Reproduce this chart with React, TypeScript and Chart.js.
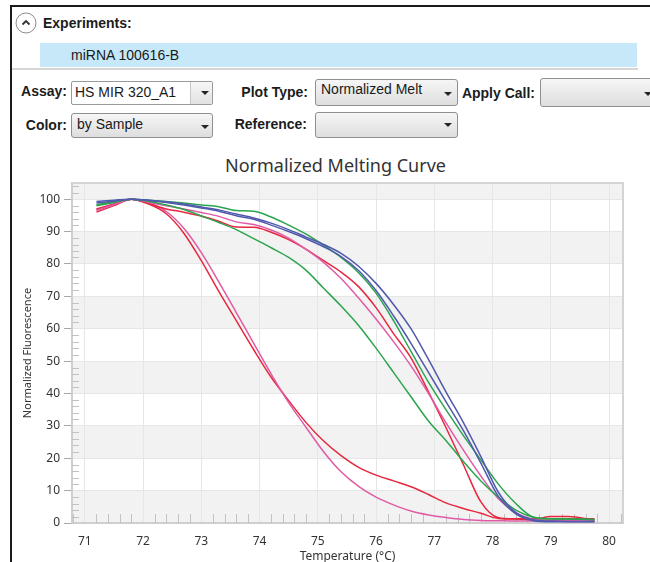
import React, { useEffect, useRef } from "react";
import { Chart, registerables } from "chart.js";

Chart.register(...registerables);

// Melt temperatures (°C) shared by every well trace
const temperatures = [
  71.2, 71.5, 71.8, 72.1, 72.4, 72.7, 73.0, 73.3, 73.6, 73.9, 74.2, 74.5, 74.8, 75.1, 75.4,
  75.7, 76.0, 76.3, 76.6, 76.9, 77.2, 77.5, 77.8, 78.1, 78.4, 78.7, 79.0, 79.3, 79.75,
];

// Normalized fluorescence (%) per sample
const blueA = [
  99.3, 99.7, 100, 99.7, 99.2, 98.5, 97.6, 96.7, 95.4, 94.2, 92.6, 90.6, 88.3, 86.0, 83.3,
  79.3, 74.0, 67.5, 60.0, 50.5, 40.5, 31.0, 20.5, 9.5, 3.2, 1.0, 0.6, 0.5, 0.5,
];
const blueB = [
  98.8, 99.4, 100, 99.6, 99.0, 98.2, 97.3, 96.3, 94.9, 93.8, 92.0, 90.0, 87.8, 85.3, 82.3,
  78.0, 71.8, 64.0, 55.5, 46.5, 37.5, 28.5, 18.5, 8.2, 2.8, 0.7, 0.4, 0.4, 0.4,
];
const greenA = [
  98.3, 99.2, 100, 99.7, 99.3, 98.8, 98.2, 97.7, 96.5, 96.3, 94.5, 92.0, 89.2, 85.8, 82.0,
  77.3, 71.0, 62.5, 53.0, 43.5, 35.0, 27.0, 19.5, 12.0, 6.0, 1.8, 1.3, 1.2, 1.1,
];
const greenB = [
  98.0, 99.0, 100, 99.3, 98.2, 96.8, 94.8, 92.8, 90.6, 87.8, 85.0, 82.0, 78.0, 72.5, 67.0,
  61.0, 54.0, 46.5, 39.0, 31.5, 25.5, 19.0, 13.0, 8.0, 4.0, 1.8, 1.3, 1.2, 1.0,
];
const redA = [
  97.0, 98.5, 100, 98.6, 97.0, 96.0, 94.8, 93.2, 91.4, 91.3, 89.8, 87.5, 84.5, 81.0, 77.5,
  73.0, 66.5, 58.5, 51.0, 40.5, 29.5, 18.0, 6.5, 1.6, 1.2, 1.1, 2.0, 2.0, 0.9,
];
const pinkA = [
  96.5, 98.3, 100, 99.0, 98.0, 97.0, 95.9, 94.7, 93.0, 92.2, 90.5, 88.0, 84.5, 80.5, 75.5,
  69.5, 63.0, 56.0, 48.5, 40.0, 31.0, 22.5, 14.5, 7.5, 3.2, 1.2, 0.8, 0.7, 0.6,
];
const redB = [
  96.0, 98.0, 100, 98.5, 95.5, 89.5, 81.0, 71.5, 62.5, 53.5, 45.0, 37.8, 31.0, 25.3, 20.8,
  17.2, 14.8, 13.0, 11.2, 8.8, 6.2, 4.5, 3.0, 1.4, 1.3, 1.3, 1.3, 1.3, 1.3,
];
const pinkB = [
  96.8, 98.4, 100, 98.8, 96.2, 91.0, 83.5, 74.5, 65.0, 55.5, 46.0, 37.2, 29.5, 22.0, 15.8,
  11.3, 8.0, 5.6, 3.7, 2.5, 1.7, 1.1, 0.8, 0.7, 0.6, 0.6, 0.6, 0.6, 0.8,
];

// Axis ticks
const xTicks = [71, 72, 73, 74, 75, 76, 77, 78, 79, 80];
const yTicks = [0, 10, 20, 30, 40, 50, 60, 70, 80, 90, 100];
// Lower edges of the shaded 10% bands
const shadedBands = [0, 20, 40, 60, 80, 100];

const X_MIN = 70.78;
const X_MAX = 80.24;
const Y_MIN = 0;
const Y_MAX = 105;

const BLUE = "#5059ad";
const GREEN = "#2ba54d";
const RED = "#e6283f";
const PINK = "#e05ba6";

const series = [
  { label: "Sample 1", values: blueA, color: BLUE },
  { label: "Sample 2", values: blueB, color: BLUE },
  { label: "Sample 3", values: greenA, color: GREEN },
  { label: "Sample 4", values: greenB, color: GREEN },
  { label: "Sample 5", values: pinkA, color: PINK },
  { label: "Sample 6", values: redA, color: RED },
  { label: "Sample 7", values: pinkB, color: PINK },
  { label: "Sample 8", values: redB, color: RED },
];

const TICK_FONT = { family: "'Noto Sans', sans-serif", size: 12 };
const TEXT_GREY = "#333333";

// Shaded bands, minor ticks and the plot frame
const plotDecor = {
  id: "plotDecor",
  beforeDraw(chart: any) {
    const { ctx, chartArea: a, scales } = chart;
    const y = scales.y;
    ctx.save();
    ctx.fillStyle = "#ffffff";
    ctx.fillRect(a.left, a.top, a.width, a.height);
    ctx.fillStyle = "#f2f2f2";
    for (const b of shadedBands) {
      const top = y.getPixelForValue(Math.min(b + 10, Y_MAX));
      const bottom = y.getPixelForValue(b);
      ctx.fillRect(a.left, top, a.width, bottom - top);
    }
    ctx.restore();
  },
  beforeDatasetsDraw(chart: any) {
    const { ctx, chartArea: a, scales } = chart;
    const { x, y } = scales;
    ctx.save();
    ctx.strokeStyle = "#c2c2c2";
    ctx.lineWidth = 1;
    ctx.beginPath();
    for (let v = 2; v < Y_MAX; v += 2) {
      if (v % 10 === 0) continue;
      const py = Math.round(y.getPixelForValue(v)) + 0.5;
      ctx.moveTo(a.left, py);
      ctx.lineTo(a.left + 7, py);
    }
    for (let i = 354; i <= 401; i++) {
      const v = i / 5;
      if (i % 5 === 0 || v < X_MIN || v > X_MAX) continue;
      const px = Math.round(x.getPixelForValue(v)) + 0.5;
      ctx.moveTo(px, a.bottom);
      ctx.lineTo(px, a.bottom - 9);
    }
    ctx.stroke();
    ctx.restore();
  },
  afterDraw(chart: any) {
    const { ctx, chartArea: a } = chart;
    ctx.save();
    ctx.strokeStyle = "#d4d4d4";
    ctx.lineWidth = 2;
    ctx.beginPath();
    ctx.moveTo(a.left, a.top);
    ctx.lineTo(a.right, a.top);
    ctx.lineTo(a.right, a.bottom);
    ctx.stroke();
    ctx.restore();
  },
};

function MeltChart() {
  const canvasRef = useRef<HTMLCanvasElement | null>(null);

  useEffect(() => {
    if (!canvasRef.current) return;
    const chart = new Chart(canvasRef.current, {
      type: "line",
      data: {
        datasets: series.map((s) => ({
          label: s.label,
          data: temperatures.map((t, i) => ({ x: t, y: s.values[i] })),
          borderColor: s.color,
          backgroundColor: s.color,
          borderWidth: 1.5,
          pointRadius: 0,
          fill: false,
          cubicInterpolationMode: "monotone" as const,
        })),
      },
      options: {
        animation: false,
        responsive: true,
        maintainAspectRatio: false,
        layout: { padding: { top: 35, right: 27, bottom: 0, left: 0 } },
        plugins: {
          legend: { display: false },
          tooltip: { enabled: false },
          title: { display: false },
        },
        scales: {
          x: {
            type: "linear",
            min: X_MIN,
            max: X_MAX,
            afterBuildTicks: (s: any) => {
              s.ticks = xTicks.map((v) => ({ value: v }));
            },
            afterFit: (s: any) => {
              s.height = 41;
            },
            grid: { color: "#e6e6e6", lineWidth: 1, drawTicks: false },
            border: { display: true, color: "#cfcfcf", width: 2 },
            ticks: { padding: 11, font: TICK_FONT, color: TEXT_GREY, maxRotation: 0 },
            title: {
              display: true,
              text: "Temperature (°C)",
              color: TEXT_GREY,
              font: { family: "'Noto Sans', sans-serif", size: 12 },
              padding: { top: 0, bottom: 0 },
            },
          },
          y: {
            type: "linear",
            min: Y_MIN,
            max: Y_MAX,
            afterBuildTicks: (s: any) => {
              s.ticks = yTicks.map((v) => ({ value: v }));
            },
            afterFit: (s: any) => {
              s.width = 60;
            },
            grid: { color: "#e6e6e6", lineWidth: 1, drawTicks: true, tickLength: 8, tickColor: "#a8a8a8" },
            border: { display: true, color: "#cfcfcf", width: 2 },
            ticks: { padding: 4, font: TICK_FONT, color: TEXT_GREY },
            title: {
              display: true,
              text: "Normalized Fluorescence",
              color: TEXT_GREY,
              font: { family: "'Noto Sans', sans-serif", size: 11 },
              padding: { top: 9, bottom: 0 },
            },
          },
        },
      },
      plugins: [plotDecor],
    });
    return () => chart.destroy();
  }, []);

  return <canvas ref={canvasRef} />;
}

const LABEL_FONT = "bold 14px 'Liberation Sans', Arial, sans-serif";
const TEXT_FONT = "14px 'Liberation Sans', Arial, sans-serif";

function FieldLabel({ right, top, text }: { right: number; top: number; text: string }) {
  return (
    <div
      style={{
        position: "absolute",
        left: right - 140,
        width: 140,
        top,
        textAlign: "right",
        font: LABEL_FONT,
        lineHeight: "16px",
        color: "#1c1c1c",
        whiteSpace: "nowrap",
      }}
    >
      {text}
    </div>
  );
}

function Arrow({ x, y }: { x: number; y: number }) {
  return (
    <div
      style={{
        position: "absolute",
        left: x - 4,
        top: y - 2,
        width: 0,
        height: 0,
        borderLeft: "4px solid transparent",
        borderRight: "4px solid transparent",
        borderTop: "4px solid #262626",
      }}
    />
  );
}

const greyBox: React.CSSProperties = {
  position: "absolute",
  boxSizing: "border-box",
  border: "1px solid #8f8f8f",
  borderRadius: 3,
  background: "linear-gradient(#f6f6f6, #dedede)",
};

function Dropdown({
  left,
  top,
  width,
  height,
  text,
  textTop,
  arrowX,
  arrowY,
}: {
  left: number;
  top: number;
  width: number;
  height: number;
  text?: string;
  textTop?: number;
  arrowX: number;
  arrowY: number;
}) {
  return (
    <>
      <div style={{ ...greyBox, left, top, width, height }} />
      {text ? (
        <div
          style={{
            position: "absolute",
            left: left + 6,
            top: textTop,
            font: TEXT_FONT,
            lineHeight: "16px",
            color: "#1a1a1a",
            whiteSpace: "nowrap",
          }}
        >
          {text}
        </div>
      ) : null}
      <Arrow x={arrowX} y={arrowY} />
    </>
  );
}

export default function App() {
  return (
    <div
      style={{
        position: "absolute",
        left: 0,
        top: 0,
        width: 650,
        height: 562,
        overflow: "hidden",
        background: "#ffffff",
      }}
    >
      {/* panel frame */}
      <div
        style={{
          position: "absolute",
          left: 10,
          top: 5,
          width: 660,
          height: 600,
          borderTop: "2px solid #1b1b1b",
          borderLeft: "2px solid #1b1b1b",
        }}
      />

      {/* collapse toggle */}
      <svg
        width={24}
        height={24}
        viewBox="0 0 24 24"
        style={{ position: "absolute", left: 14, top: 11 }}
      >
        <circle cx={12} cy={12} r={10} fill="#ffffff" stroke="#8c8c8c" strokeWidth={1} />
        <polyline points="8.5,13.5 12,10 15.5,13.5" fill="none" stroke="#333" strokeWidth={1.8} />
      </svg>
      <div
        style={{
          position: "absolute",
          left: 43,
          top: 15,
          font: LABEL_FONT,
          lineHeight: "16px",
          color: "#1c1c1c",
        }}
      >
        Experiments:
      </div>

      {/* selected experiment */}
      <div
        style={{
          position: "absolute",
          left: 40,
          top: 43,
          width: 597,
          height: 24,
          background: "#c7e8f8",
        }}
      />
      <div
        style={{
          position: "absolute",
          left: 71,
          top: 47,
          font: TEXT_FONT,
          lineHeight: "16px",
          color: "#1a1a1a",
        }}
      >
        miRNA 100616-B
      </div>
      <div
        style={{
          position: "absolute",
          left: 12,
          top: 68,
          width: 626,
          height: 2,
          background: "#d6d6d6",
        }}
      />

      {/* row 1 */}
      <FieldLabel right={67} top={83} text="Assay:" />
      <div
        style={{
          position: "absolute",
          boxSizing: "border-box",
          left: 71,
          top: 81,
          width: 142,
          height: 24,
          border: "1px solid #9a9a9a",
          borderRadius: 2,
          background: "#ffffff",
        }}
      />
      <div
        style={{
          position: "absolute",
          boxSizing: "border-box",
          left: 190,
          top: 82,
          width: 22,
          height: 22,
          borderLeft: "1px solid #c8c8c8",
          background: "linear-gradient(#f7f7f7, #e2e2e2)",
        }}
      />
      <div
        style={{
          position: "absolute",
          left: 75,
          top: 84,
          font: TEXT_FONT,
          lineHeight: "16px",
          color: "#1a1a1a",
        }}
      >
        HS MIR 320_A1
      </div>
      <Arrow x={205} y={93} />

      <FieldLabel right={308} top={84} text="Plot Type:" />
      <Dropdown left={315} top={79} width={143} height={27} text="Normalized Melt" textTop={81} arrowX={448} arrowY={94} />

      <FieldLabel right={535} top={85} text="Apply Call:" />
      <Dropdown left={540} top={78} width={130} height={29} arrowX={648} arrowY={94} />

      {/* row 2 */}
      <FieldLabel right={67} top={117} text="Color:" />
      <Dropdown left={71} top={113} width={142} height={25} text="by Sample" textTop={116} arrowX={205} arrowY={127} />

      <FieldLabel right={307} top={116} text="Reference:" />
      <Dropdown left={315} top={112} width={143} height={26} arrowX={448} arrowY={125} />

      {/* chart title */}
      <div
        style={{
          position: "absolute",
          left: 135,
          width: 401,
          top: 154,
          textAlign: "center",
          fontFamily: "'Noto Sans', sans-serif",
          fontSize: 18,
          lineHeight: "22px",
          color: "#333333",
          whiteSpace: "nowrap",
        }}
      >
        Normalized Melting Curve
      </div>

      {/* chart */}
      <div style={{ position: "absolute", left: 12, top: 148, width: 638, height: 416 }}>
        <MeltChart />
      </div>
    </div>
  );
}
